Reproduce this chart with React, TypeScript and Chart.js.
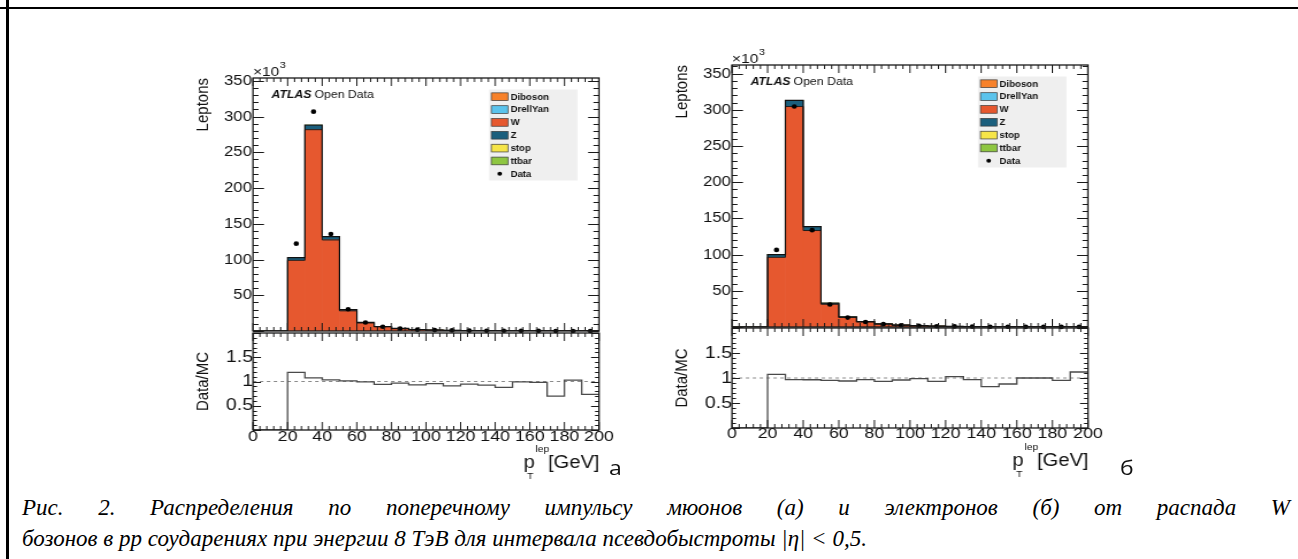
import React, { useEffect, useRef } from "react";
import { Chart, registerables } from "chart.js";

Chart.register(...registerables);

const SANS = '"Liberation Sans", Arial, Helvetica, sans-serif';
const SERIF = '"Liberation Serif", "Times New Roman", serif';

// ---------------- data ----------------
const BIN_EDGES = [0, 10, 20, 30, 40, 50, 60, 70, 80, 90, 100, 110, 120, 130, 140, 150, 160, 170, 180, 190, 200];
const X_TICK_LABELS = [0, 20, 40, 60, 80, 100, 120, 140, 160, 180, 200];
const MAIN_Y_TICK_LABELS = [50, 100, 150, 200, 250, 300, 350];
const RATIO_Y_TICK_LABELS = [0.5, 1, 1.5];
const SAMPLES = ["Diboson", "DrellYan", "W", "Z", "stop", "ttbar"];
const SAMPLE_COLORS = ["#f7812a", "#5bc3ec", "#e6582f", "#1b5f7d", "#f6e548", "#8ec641"];
const STACK_ORDER = ["W", "Z", "DrellYan", "Diboson", "stop", "ttbar"];

// muons (a), thousands of leptons per 10 GeV bin
const MU_DIBOSON = [0, 0, 0.05, 0.1, 0.12, 0.08, 0.05, 0.04, 0.03, 0.02, 0.015, 0.012, 0.01, 0.008, 0.006, 0.005, 0.004, 0.003, 0.003, 0.002];
const MU_DRELLYAN = [0, 0, 0.4, 0.6, 0.3, 0.08, 0.03, 0.015, 0.01, 0.005, 0.003, 0.002, 0.002, 0.001, 0.001, 0.001, 0.001, 0, 0, 0];
const MU_W = [0, 0, 98.9, 281.7, 127.4, 28.2, 11.2, 5.8, 3.2, 1.9, 1.25, 0.85, 0.57, 0.42, 0.3, 0.22, 0.17, 0.13, 0.095, 0.075];
const MU_Z = [0, 0, 3.3, 5.4, 3.8, 1.2, 0.55, 0.33, 0.19, 0.11, 0.07, 0.05, 0.035, 0.025, 0.02, 0.015, 0.01, 0.01, 0.008, 0.006];
const MU_STOP = [0, 0, 0.04, 0.09, 0.1, 0.07, 0.05, 0.035, 0.025, 0.018, 0.013, 0.01, 0.007, 0.005, 0.004, 0.003, 0.002, 0.002, 0.001, 0.001];
const MU_TTBAR = [0, 0, 0.08, 0.2, 0.25, 0.2, 0.15, 0.11, 0.08, 0.06, 0.045, 0.034, 0.026, 0.02, 0.015, 0.012, 0.009, 0.007, 0.005, 0.004];
const MU_DATA = [0, 0, 122.2, 306.9, 135.7, 30.4, 11.8, 5.9, 3.3, 1.86, 1.25, 0.82, 0.57, 0.42, 0.28, 0.24, 0.18, 0.1, 0.1, 0.06];
const MU_RATIO = [0, 0, 1.19, 1.075, 1.035, 1.012, 0.993, 0.94, 0.965, 0.93, 0.958, 0.91, 0.944, 0.924, 0.88, 0.993, 0.98, 0.7, 1.03, 0.736];

// electrons (б)
const EL_DIBOSON = [0, 0, 0.05, 0.11, 0.13, 0.09, 0.06, 0.045, 0.03, 0.022, 0.016, 0.012, 0.01, 0.008, 0.006, 0.005, 0.004, 0.003, 0.003, 0.002];
const EL_DRELLYAN = [0, 0, 0.35, 0.7, 0.35, 0.09, 0.03, 0.015, 0.01, 0.005, 0.003, 0.002, 0.002, 0.001, 0.001, 0.001, 0.001, 0, 0, 0];
const EL_W = [0, 0, 96.3, 304.6, 133.3, 31.4, 13.2, 7.0, 4.0, 2.5, 1.62, 1.1, 0.76, 0.52, 0.38, 0.28, 0.21, 0.16, 0.12, 0.095];
const EL_Z = [0, 0, 3.1, 7.3, 4.6, 1.1, 0.45, 0.27, 0.16, 0.1, 0.06, 0.04, 0.03, 0.02, 0.015, 0.01, 0.01, 0.008, 0.006, 0.005];
const EL_STOP = [0, 0, 0.04, 0.1, 0.11, 0.08, 0.055, 0.04, 0.028, 0.02, 0.014, 0.01, 0.007, 0.005, 0.004, 0.003, 0.002, 0.002, 0.001, 0.001];
const EL_TTBAR = [0, 0, 0.09, 0.22, 0.28, 0.22, 0.16, 0.12, 0.09, 0.065, 0.05, 0.036, 0.028, 0.021, 0.016, 0.012, 0.009, 0.007, 0.005, 0.004];
const EL_DATA = [0, 0, 106.5, 304.6, 133.8, 31.0, 13.0, 7.0, 3.95, 2.5, 1.66, 1.07, 0.82, 0.53, 0.33, 0.265, 0.22, 0.17, 0.125, 0.11];
const EL_RATIO = [0, 0, 1.073, 0.967, 0.965, 0.953, 0.94, 0.967, 0.933, 0.96, 0.987, 0.933, 1.027, 0.967, 0.827, 0.88, 1.0, 1.0, 0.953, 1.12];

const MU_Y_MAX = 354;
const EL_Y_MAX = 362;

// horizontal stretch of the reference picture
const K = 1.15;

// ---------------- helpers ----------------
const centers = BIN_EDGES.slice(0, -1).map((e, i) => (e + BIN_EDGES[i + 1]) / 2);
const stepPoints = (vals: number[]) =>
  vals
    .map((v, i) => ({ x: BIN_EDGES[i], y: v }))
    .concat([{ x: BIN_EDGES[BIN_EDGES.length - 1], y: vals[vals.length - 1] }]);
const colorOf = (n: string) => SAMPLE_COLORS[SAMPLES.indexOf(n)];

type Side = {
  comps: Record<string, number[]>;
  data: number[];
  ratio: number[];
  yMax: number;
  xPad: number;
};

const MUONS: Side = {
  comps: { Diboson: MU_DIBOSON, DrellYan: MU_DRELLYAN, W: MU_W, Z: MU_Z, stop: MU_STOP, ttbar: MU_TTBAR },
  data: MU_DATA,
  ratio: MU_RATIO,
  yMax: MU_Y_MAX,
  xPad: -1,
};
const ELECTRONS: Side = {
  comps: { Diboson: EL_DIBOSON, DrellYan: EL_DRELLYAN, W: EL_W, Z: EL_Z, stop: EL_STOP, ttbar: EL_TTBAR },
  data: EL_DATA,
  ratio: EL_RATIO,
  yMax: EL_Y_MAX,
  xPad: -2,
};

// page geometry of one panel -> canvas + chart-area settings
type Geom = {
  cl: number;
  cw: number;
  top: number;
  height: number;
  L: number;
  R: number;
  T: number;
  B: number;
  xAxisH: number;
};
function resolveGeom(g: Geom) {
  const iw = Math.round(g.cw / K);
  const kx = g.cw / iw;
  return {
    iw,
    kx,
    yW: (g.L - g.cl) / kx,
    pad: {
      left: 0,
      top: g.T - g.top,
      right: (g.cl + g.cw - g.R) / kx,
      bottom: g.top + g.height - g.B - g.xAxisH,
    },
  };
}

type FrameOpts = {
  kx: number;
  xMajor: number;
  xMinor: number;
  yMajor: number;
  yMinor: number;
  xMajLen: number;
  xMinLen: number;
  yMajLen: number;
  yMinLen: number;
  extra?: (ctx: CanvasRenderingContext2D, a: any, chart: any, kx: number) => void;
};

function framePlugin(o: FrameOpts) {
  return {
    id: "rootFrame",
    afterDatasetsDraw(chart: any) {
      const { ctx, chartArea: a, scales } = chart;
      const xs = scales.x;
      const ys = scales.y;
      ctx.save();
      ctx.strokeStyle = "#1a1a1a";
      ctx.lineWidth = 1;
      ctx.beginPath();
      const nx = Math.round((xs.max - xs.min) / o.xMinor);
      for (let i = 0; i <= nx; i++) {
        const v = xs.min + i * o.xMinor;
        const px = xs.getPixelForValue(v);
        const r = v / o.xMajor;
        const len = Math.abs(r - Math.round(r)) < 1e-6 ? o.xMajLen : o.xMinLen;
        ctx.moveTo(px, a.bottom);
        ctx.lineTo(px, a.bottom - len);
        ctx.moveTo(px, a.top);
        ctx.lineTo(px, a.top + len);
      }
      const ny = Math.floor((ys.max - ys.min) / o.yMinor + 1e-6);
      for (let i = 0; i <= ny; i++) {
        const v = ys.min + i * o.yMinor;
        const py = Math.round(ys.getPixelForValue(v)) + 0.5;
        const r = v / o.yMajor;
        const len = (Math.abs(r - Math.round(r)) < 1e-6 ? o.yMajLen : o.yMinLen) / o.kx;
        ctx.moveTo(a.left, py);
        ctx.lineTo(a.left + len, py);
        ctx.moveTo(a.right, py);
        ctx.lineTo(a.right - len, py);
      }
      ctx.stroke();
      ctx.lineWidth = 1.3;
      ctx.strokeRect(a.left, a.top, a.right - a.left, a.bottom - a.top);
      ctx.restore();
      if (o.extra) {
        ctx.save();
        o.extra(ctx, a, chart, o.kx);
        ctx.restore();
      }
    },
  };
}

function drawMainExtras(ctx: CanvasRenderingContext2D, a: any, chart: any, kx: number) {
  ctx.fillStyle = "#111";
  ctx.textAlign = "left";
  ctx.textBaseline = "alphabetic";
  // x10^3
  ctx.font = `13.5px ${SANS}`;
  ctx.fillText("\u00d710", a.left, a.top - 2.5);
  const w10 = ctx.measureText("\u00d710").width;
  ctx.font = `9.5px ${SANS}`;
  ctx.fillText("3", a.left + w10 + 0.5, a.top - 10.5);
  // y title
  ctx.save();
  ctx.translate(a.left - 50 / kx, a.top);
  ctx.rotate(-Math.PI / 2);
  ctx.font = `15px ${SANS}`;
  ctx.textAlign = "right";
  ctx.textBaseline = "middle";
  ctx.fillText("Leptons", 0, 0);
  ctx.restore();
  // ATLAS Open Data
  const ax = a.left + 18.5 / kx;
  const ay = a.top + 19.5;
  ctx.font = `italic bold 10.7px ${SANS}`;
  ctx.fillText("ATLAS", ax, ay);
  const wA = ctx.measureText("ATLAS").width;
  ctx.font = `10.7px ${SANS}`;
  ctx.fillText("Open Data", ax + wA + 3 / kx, ay);
  // legend
  const bx = a.right - 110 / kx;
  const by = a.top + 11.5;
  ctx.fillStyle = "#efefef";
  ctx.fillRect(bx, by, 88.5 / kx, 91);
  const entries = SAMPLES.concat(["Data"]);
  entries.forEach((name, i) => {
    const cy = a.top + 18.7 + i * 12.85;
    if (name === "Data") {
      const ds = chart.data.datasets.find((d: any) => d.label === "Data");
      ctx.fillStyle = ds ? ds.pointBackgroundColor : "#000";
      ctx.beginPath();
      ctx.arc(bx + 10.7 / kx, cy, 2, 0, Math.PI * 2);
      ctx.fill();
    } else {
      const ds = chart.data.datasets.find((d: any) => d.label === name);
      ctx.fillStyle = ds ? ds.backgroundColor : colorOf(name);
      ctx.fillRect(bx + 2.5 / kx, cy - 3.85, 16.5 / kx, 7.7);
      ctx.strokeStyle = "#3a3a3a";
      ctx.lineWidth = 0.7;
      ctx.strokeRect(bx + 2.5 / kx, cy - 3.85, 16.5 / kx, 7.7);
    }
    ctx.fillStyle = "#111";
    ctx.font = `bold 8.4px ${SANS}`;
    ctx.textAlign = "left";
    ctx.textBaseline = "middle";
    ctx.fillText(name, bx + 21.5 / kx, cy + 0.5);
  });
}

function drawRatioExtras(ctx: CanvasRenderingContext2D, a: any, chart: any, kx: number) {
  ctx.fillStyle = "#111";
  // y title
  ctx.save();
  ctx.translate(a.left - 50 / kx, (a.top + a.bottom) / 2);
  ctx.rotate(-Math.PI / 2);
  ctx.font = `15px ${SANS}`;
  ctx.textAlign = "center";
  ctx.textBaseline = "middle";
  ctx.fillText("Data/MC", 0, 0);
  ctx.restore();
  // x title: p_T^lep [GeV]
  const base = a.bottom + 38;
  ctx.textBaseline = "alphabetic";
  ctx.textAlign = "right";
  ctx.font = `17.5px ${SANS}`;
  ctx.fillText("[GeV]", a.right + 0.5 / kx, base);
  const wG = ctx.measureText("[GeV]").width;
  const gStart = a.right + 0.5 / kx - wG;
  ctx.textAlign = "left";
  ctx.font = `9px ${SANS}`;
  ctx.fillText("lep", gStart - 12.5 / kx, base - 16);
  ctx.font = `17.5px ${SANS}`;
  const pStart = gStart - 24.5 / kx;
  ctx.fillText("p", pStart, base);
  ctx.font = `9px ${SANS}`;
  ctx.fillText("T", pStart + 3.5 / kx, base + 10.5);
}

function buildMain(side: Side, g: ReturnType<typeof resolveGeom>) {
  const total = side.comps.W.map((_, i) => STACK_ORDER.reduce((s, n) => s + side.comps[n][i], 0));
  const datasets: any[] = STACK_ORDER.map((n) => ({
    type: "bar",
    label: n,
    stack: "mc",
    order: 3,
    data: side.comps[n].map((v, i) => ({ x: centers[i], y: v })),
    backgroundColor: colorOf(n),
    borderWidth: 0,
    barPercentage: 1,
    categoryPercentage: 1,
  }));
  datasets.push({
    type: "line",
    label: "W edge",
    data: stepPoints(side.comps.W),
    stepped: "before",
    borderColor: "#1e1e1e",
    borderWidth: 1,
    pointRadius: 0,
    fill: false,
    order: 2,
  });
  datasets.push({
    type: "line",
    label: "MC edge",
    data: stepPoints(total),
    stepped: "before",
    borderColor: "#111",
    borderWidth: 1.2,
    pointRadius: 0,
    fill: false,
    order: 1,
  });
  datasets.push({
    type: "line",
    label: "Data",
    data: side.data.map((v, i) => ({ x: centers[i], y: v > 0 ? v : null })),
    showLine: false,
    pointRadius: 2.3,
    pointBackgroundColor: "#000",
    pointBorderColor: "#000",
    pointBorderWidth: 0,
    order: 0,
    clip: false,
  });
  return {
    type: "bar",
    data: { datasets },
    options: {
      responsive: false,
      animation: false,
      devicePixelRatio: 1,
      events: [],
      layout: { padding: g.pad },
      plugins: { legend: { display: false }, tooltip: { enabled: false }, title: { display: false } },
      scales: {
        x: { type: "linear", min: 0, max: 200, offset: false, display: false },
        y: {
          type: "linear",
          min: 0,
          max: side.yMax,
          grid: { display: false, drawTicks: false },
          border: { display: false },
          ticks: {
            stepSize: 50,
            includeBounds: false,
            autoSkip: false,
            padding: 1,
            color: "#111",
            font: { family: SANS, size: 14.5 },
            callback: (v: any) => (MAIN_Y_TICK_LABELS.includes(v) ? String(v) : null),
          },
          afterFit: (s: any) => {
            s.width = g.yW;
          },
        },
      },
    },
    plugins: [
      framePlugin({
        kx: g.kx,
        xMajor: 20,
        xMinor: 4,
        yMajor: 50,
        yMinor: 10,
        xMajLen: 8,
        xMinLen: 4,
        yMajLen: 11,
        yMinLen: 5.5,
        extra: drawMainExtras,
      }),
    ],
  };
}

function buildRatio(side: Side, g: ReturnType<typeof resolveGeom>) {
  return {
    type: "line",
    data: {
      datasets: [
        {
          label: "Data/MC",
          data: stepPoints(side.ratio),
          stepped: "before",
          borderColor: "#4a4a4a",
          borderWidth: 1.3,
          pointRadius: 0,
          fill: false,
          order: 1,
        },
        {
          label: "unity",
          data: [
            { x: 0, y: 1 },
            { x: 200, y: 1 },
          ],
          borderColor: "#8a8a8a",
          borderWidth: 1,
          borderDash: [3, 3],
          pointRadius: 0,
          fill: false,
          order: 2,
        },
      ],
    },
    options: {
      responsive: false,
      animation: false,
      devicePixelRatio: 1,
      events: [],
      layout: { padding: g.pad },
      plugins: { legend: { display: false }, tooltip: { enabled: false }, title: { display: false } },
      scales: {
        x: {
          type: "linear",
          min: 0,
          max: 200,
          offset: false,
          grid: { display: false, drawTicks: false },
          border: { display: false },
          ticks: {
            stepSize: 20,
            autoSkip: false,
            maxRotation: 0,
            padding: side.xPad,
            color: "#111",
            font: { family: SANS, size: 15.5, lineHeight: 1 },
            callback: (v: any) => (X_TICK_LABELS.includes(v) ? String(v) : null),
          },
          afterFit: (s: any) => {
            s.height = 24;
          },
        },
        y: {
          type: "linear",
          min: 0,
          max: 2,
          grid: { display: false, drawTicks: false },
          border: { display: false },
          ticks: {
            stepSize: 0.5,
            autoSkip: false,
            padding: 0,
            color: "#111",
            font: { family: SANS, size: 17 },
            callback: (v: any) => (RATIO_Y_TICK_LABELS.includes(v) ? String(v) : null),
          },
          afterFit: (s: any) => {
            s.width = g.yW;
          },
        },
      },
    },
    plugins: [
      framePlugin({
        kx: g.kx,
        xMajor: 20,
        xMinor: 4,
        yMajor: 0.5,
        yMinor: 0.1,
        xMajLen: 8,
        xMinLen: 4,
        yMajLen: 8,
        yMinLen: 4,
        extra: drawRatioExtras,
      }),
    ],
  };
}

function PanelCanvas({ geom, kind, side }: { geom: Geom; kind: "main" | "ratio"; side: Side }) {
  const ref = useRef<HTMLCanvasElement | null>(null);
  const g = resolveGeom(geom);
  useEffect(() => {
    if (!ref.current) return;
    const cfg: any = kind === "main" ? buildMain(side, g) : buildRatio(side, g);
    const chart = new Chart(ref.current, cfg);
    return () => chart.destroy();
  }, []);
  return (
    <canvas
      ref={ref}
      width={g.iw}
      height={geom.height}
      style={{ position: "absolute", left: geom.cl, top: geom.top, width: geom.cw, height: geom.height }}
    />
  );
}

const LEFT_MAIN: Geom = { cl: 185, cw: 425, top: 50, height: 295, L: 253, R: 599, T: 78, B: 331, xAxisH: 0 };
const LEFT_RATIO: Geom = { cl: 185, cw: 435, top: 319, height: 170, L: 253, R: 599, T: 333, B: 430, xAxisH: 24 };
const RIGHT_MAIN: Geom = { cl: 664, cw: 435, top: 37, height: 304, L: 732, R: 1088, T: 65, B: 327, xAxisH: 0 };
const RIGHT_RATIO: Geom = { cl: 664, cw: 445, top: 314, height: 170, L: 732, R: 1088, T: 328, B: 428, xAxisH: 24 };

const CAPTION_1 = "Рис. 2. Распределения по поперечному импульсу мюонов (а) и электронов (б) от распада W";
const CAPTION_2 = "бозонов в pp соударениях при энергии 8 ТэВ для интервала псевдобыстроты |η| < 0,5.";

export default function App() {
  const capBase: React.CSSProperties = {
    position: "absolute",
    left: 22,
    fontFamily: SERIF,
    fontStyle: "italic",
    fontSize: 23,
    lineHeight: 1,
    color: "#000",
  };
  return (
    <div style={{ position: "fixed", left: 0, top: 0, width: 1298, height: 559, background: "#fff", overflow: "hidden" }}>
      <div style={{ position: "absolute", left: 6, top: 0, width: 2.5, height: 559, background: "#000" }} />
      <div style={{ position: "absolute", left: 0, top: 6.5, width: 1298, height: 2.5, background: "#000" }} />

      <PanelCanvas geom={LEFT_MAIN} kind="main" side={MUONS} />
      <PanelCanvas geom={LEFT_RATIO} kind="ratio" side={MUONS} />
      <PanelCanvas geom={RIGHT_MAIN} kind="main" side={ELECTRONS} />
      <PanelCanvas geom={RIGHT_RATIO} kind="ratio" side={ELECTRONS} />

      <div style={{ position: "absolute", left: 609, top: 458, fontFamily: '"Open Sans", sans-serif', fontSize: 20, lineHeight: 1, color: "#111", transform: "scaleX(1.15)", transformOrigin: "0 0" }}>а</div>
      <div style={{ position: "absolute", left: 1120, top: 458, fontFamily: '"Open Sans", sans-serif', fontSize: 20, lineHeight: 1, color: "#111", transform: "scaleX(1.15)", transformOrigin: "0 0" }}>б</div>

      <div style={{ ...capBase, top: 495.5, width: 1268, textAlign: "justify", textAlignLast: "justify" }}>{CAPTION_1}</div>
      <div style={{ ...capBase, top: 526.5, whiteSpace: "nowrap" }}>{CAPTION_2}</div>
    </div>
  );
}
